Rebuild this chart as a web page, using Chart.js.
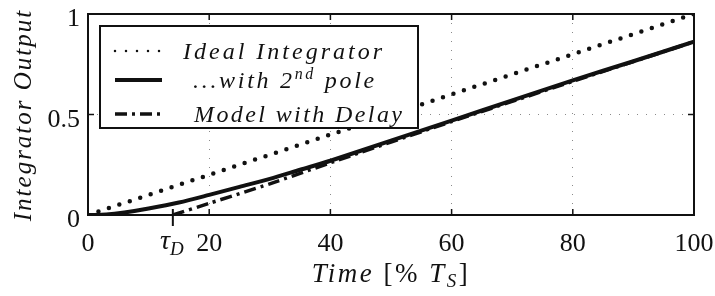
<!DOCTYPE html>
<html lang="en">
<head>
  <meta charset="UTF-8">
  <title>Integrator Output</title>
  <script src="https://cdn.jsdelivr.net/npm/chart.js"></script>
</head>
<body style="margin:0; background:#fff">
  <div id="wrap" style="position:relative; width:715px; height:296px; overflow:hidden">
    <canvas id="intChart" width="715" height="296"></canvas>
  </div>
  <script>
    const timeTicks = [0, 20, 40, 60, 80, 100];
    const outTicks = [0, 0.5, 1];
    const tauD = 14;

    // ideal integrator
    const idealT = [0, 100];
    const idealY = [0, 1];

    // integrator with 2nd pole
    const poleT = [0, 3, 6, 10, 15, 20, 25, 30, 35, 40, 50, 60, 70, 80, 90, 100];
    const poleY = [0, 0.002, 0.012, 0.032, 0.062, 0.10, 0.14, 0.18, 0.225, 0.27, 0.37, 0.47, 0.57, 0.67, 0.765, 0.862];

    // model with delay
    const delayT = [14, 20, 30, 40, 60, 80, 100];
    const delayY = [0, 0.058, 0.155, 0.26, 0.465, 0.665, 0.862];

    const seriesNames = ["Ideal Integrator", "...with 2nd pole", "Model with Delay"];

    const fontFam = "'Liberation Serif', 'Times New Roman', serif";
    const ink = '#111';

    function pts(xs, ys) {
      return xs.map((t, i) => ({ x: t, y: ys[i] }));
    }

    function line(ctx, x1, y1, x2, y2) {
      ctx.beginPath();
      ctx.moveTo(x1, y1);
      ctx.lineTo(x2, y2);
      ctx.stroke();
    }

    function legendBox(a) {
      const bx = a.left + 12, by = a.top + 12;
      return { bx, by, bw: 318, bh: 102, rows: [by + 25, by + 54, by + 88] };
    }

    // frame, inward ticks, tau_D marker and legend box on the chart canvas
    const decor = {
      id: 'decor',
      afterDraw(chart) {
        const { ctx, chartArea: a, scales: { x, y } } = chart;
        const ds = chart.data.datasets;
        ctx.save();
        ctx.strokeStyle = ink;
        ctx.lineWidth = 2;
        ctx.strokeRect(a.left, a.top, a.right - a.left, a.bottom - a.top);
        ctx.lineWidth = 1.5;
        timeTicks.slice(1, -1).forEach(v => {
          const px = x.getPixelForValue(v);
          line(ctx, px, a.top, px, a.top + 6);
          line(ctx, px, a.bottom, px, a.bottom - 6);
        });
        outTicks.slice(1, -1).forEach(v => {
          const py = y.getPixelForValue(v);
          line(ctx, a.left, py, a.left + 6, py);
          line(ctx, a.right, py, a.right - 6, py);
        });

        const tx = x.getPixelForValue(tauD);
        ctx.lineWidth = 2;
        line(ctx, tx, a.bottom - 6, tx, a.bottom + 11);

        const L = legendBox(a);
        ctx.fillStyle = '#fff';
        ctx.fillRect(L.bx, L.by, L.bw, L.bh);
        ctx.strokeRect(L.bx, L.by, L.bw, L.bh);
        ds.forEach((d, i) => {
          ctx.save();
          ctx.strokeStyle = d.borderColor;
          ctx.lineWidth = i === 0 ? 2.5 : d.borderWidth;
          ctx.lineCap = d.borderCapStyle || 'butt';
          ctx.setLineDash(d.borderDash || []);
          line(ctx, L.bx + 15, L.rows[i], L.bx + 62, L.rows[i]);
          ctx.restore();
        });
        ctx.restore();
      }
    };

    const chart = new Chart(document.getElementById('intChart'), {
      type: 'line',
      data: {
        datasets: [
          {
            label: seriesNames[0],
            data: pts(idealT, idealY),
            borderColor: ink,
            borderWidth: 4.5,
            borderDash: [0, 11],
            borderCapStyle: 'round',
            pointRadius: 0,
            fill: false
          },
          {
            label: seriesNames[1],
            data: pts(poleT, poleY),
            borderColor: ink,
            borderWidth: 4,
            pointRadius: 0,
            tension: 0.3,
            fill: false
          },
          {
            label: seriesNames[2],
            data: pts(delayT, delayY),
            borderColor: ink,
            borderWidth: 3.5,
            borderDash: [12, 5, 3, 5],
            pointRadius: 0,
            tension: 0.2,
            fill: false
          }
        ]
      },
      options: {
        responsive: false,
        animation: false,
        devicePixelRatio: 1,
        layout: { padding: { top: 14, right: 21, left: 0, bottom: 0 } },
        plugins: { legend: { display: false }, tooltip: { enabled: false } },
        scales: {
          x: {
            type: 'linear',
            min: 0,
            max: 100,
            afterBuildTicks: s => { s.ticks = timeTicks.map(v => ({ value: v })); },
            afterFit: s => { s.height = 81; },
            grid: { color: '#8a8a8a', lineWidth: 1, drawTicks: false },
            border: { display: false, dash: [1, 8] },
            ticks: { display: false }
          },
          y: {
            min: 0,
            max: 1,
            afterBuildTicks: s => { s.ticks = outTicks.map(v => ({ value: v })); },
            afterFit: s => { s.width = 88; },
            grid: { color: '#8a8a8a', lineWidth: 1, drawTicks: false },
            border: { display: false, dash: [1, 8] },
            ticks: { display: false }
          }
        }
      },
      plugins: [decor]
    });

    // text as html labels, placed from the chart's scales
    const wrap = document.getElementById('wrap');
    function label(html, cx, cy, css, tf) {
      const el = document.createElement('div');
      el.innerHTML = html;
      el.style.cssText = 'position:absolute; white-space:nowrap; line-height:1; pointer-events:none; color:' + ink +
        '; font-family:' + fontFam + '; ' + (css || '');
      el.style.left = cx + 'px';
      el.style.top = cy + 'px';
      el.style.transform = tf || 'translate(-50%, -50%)';
      wrap.appendChild(el);
    }
    const itl = (t, px) => '<span style="font-style:italic; font-size:' + px + 'px">' + t + '</span>';
    const sub = (t, px, dy) => '<span style="font-style:italic; font-size:' + px + 'px; position:relative; top:' + dy + 'px">' + t + '</span>';

    const a = chart.chartArea, xs = chart.scales.x, ys = chart.scales.y;

    timeTicks.forEach(v => label(String(v), xs.getPixelForValue(v), a.bottom + 28, 'font-size:26px'));
    outTicks.forEach(v => label(String(v), a.left - 8, ys.getPixelForValue(v) + 4, 'font-size:26px', 'translate(-100%, -50%)'));

    label(itl('\u03C4', 28) + sub('D', 19, 6), xs.getPixelForValue(tauD) - 1, a.bottom + 25);

    const L = legendBox(a);
    label(itl(seriesNames[0], 24), L.bx + 83, L.rows[0], 'letter-spacing:3px', 'translate(0, -50%)');
    label(itl('...with 2', 24) + sub('nd', 16, -9) + itl(' pole', 24), L.bx + 93, L.rows[1], 'letter-spacing:2.7px', 'translate(0, -50%)');
    label(itl(seriesNames[2], 24), L.bx + 94, L.rows[2], 'letter-spacing:2.4px', 'translate(0, -50%)');

    label(itl('Time ', 27) + '<span style="font-size:27px">[% </span>' + itl('T', 27) + sub('S', 19, 5) +
      '<span style="font-size:27px">]</span>', (a.left + a.right) / 2, a.bottom + 58, 'letter-spacing:2.5px');
    label(itl('Integrator Output', 25), 22, (a.top + a.bottom) / 2, 'letter-spacing:2px', 'translate(-50%, -50%) rotate(-90deg)');
  </script>
</body>
</html>
